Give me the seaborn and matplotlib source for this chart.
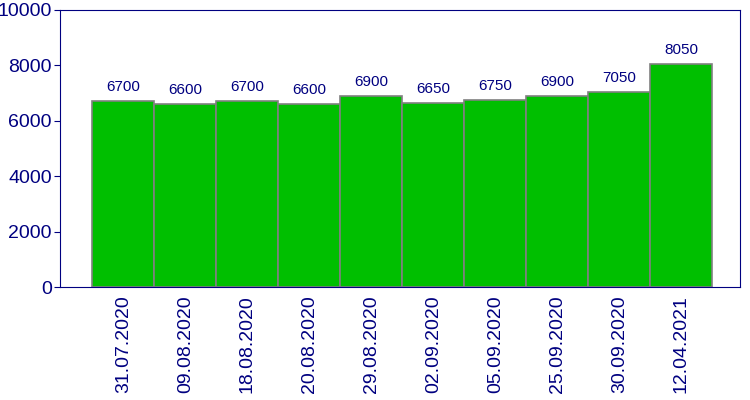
import matplotlib
matplotlib.use("Agg")
import matplotlib.pyplot as plt
import seaborn as sns
import pandas as pd

dates = ["31.07.2020", "09.08.2020", "18.08.2020", "20.08.2020", "29.08.2020",
         "02.09.2020", "05.09.2020", "25.09.2020", "30.09.2020", "12.04.2021"]
values = [6700, 6600, 6700, 6600, 6900, 6650, 6750, 6900, 7050, 8050]

df = pd.DataFrame({"date": dates, "value": values})

sns.set_style("white")
plt.rcParams["font.family"] = ["Liberation Sans", "DejaVu Sans"]
navy = "#000080"

fig = plt.figure(figsize=(7.5, 4), dpi=100)
ax = fig.add_axes([0.08, 0.2825, 0.907, 0.6925])
sns.barplot(data=df, x="date", y="value", color="#00BF00", saturation=1,
            width=1, edgecolor="#808080", linewidth=1.2, ax=ax)

for i, v in enumerate(values):
    ax.text(i, v + 250, str(v), ha="center", va="bottom", color=navy, fontsize=11)

ax.set_xlim(-1.02, 9.95)
ax.set_ylim(0, 10000)
ax.set_yticks([0, 2000, 4000, 6000, 8000, 10000])
ax.set_xlabel("")
ax.set_ylabel("")
ax.tick_params(axis="x", rotation=90, labelsize=14, colors=navy, length=0, pad=6)
ax.tick_params(axis="y", labelsize=14, colors=navy, left=True, length=4,
               direction="out", pad=2)
for s in ax.spines.values():
    s.set_color(navy)
    s.set_linewidth(0.8)

fig.savefig("out.png", dpi=100)
